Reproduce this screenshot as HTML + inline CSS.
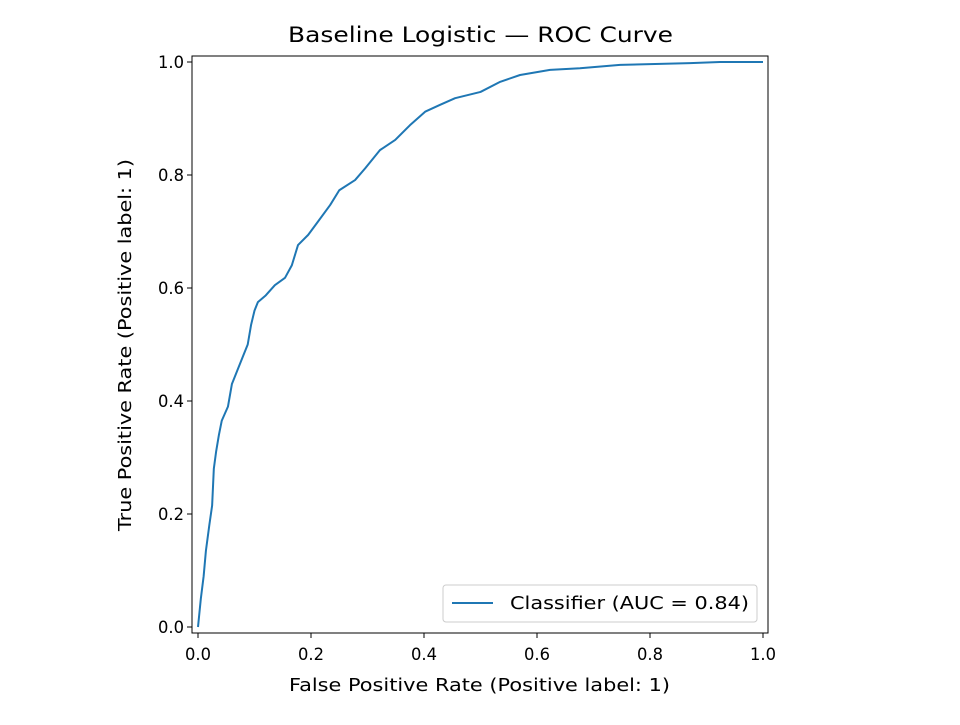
<!DOCTYPE html>
<html><head><meta charset="utf-8"><style>
body{margin:0;background:#fff}
svg text{font-family:"DejaVu Sans","Liberation Sans",sans-serif;fill:#000}
</style></head><body>
<svg width="960" height="720">
<rect width="960" height="720" fill="#fff"/>
<g id="plot"></g>
</svg>
<script>
const fpr=[0,0.002,0.005,0.01,0.014,0.02,0.025,0.028,0.032,0.037,0.042,0.053,0.06,0.07,0.08,0.088,0.094,0.1,0.106,0.12,0.136,0.154,0.166,0.177,0.195,0.212,0.234,0.25,0.278,0.296,0.322,0.349,0.375,0.402,0.428,0.455,0.5,0.535,0.57,0.623,0.676,0.747,0.871,0.924,1];
const tpr=[0,0.02,0.05,0.09,0.135,0.18,0.215,0.28,0.31,0.34,0.365,0.39,0.43,0.455,0.48,0.5,0.535,0.56,0.575,0.587,0.605,0.618,0.64,0.676,0.694,0.717,0.747,0.773,0.791,0.812,0.844,0.862,0.888,0.912,0.924,0.936,0.947,0.965,0.977,0.986,0.989,0.995,0.998,1,1];
const ticks=[0,0.2,0.4,0.6,0.8,1.0];
const tickLabels=["0.0","0.2","0.4","0.6","0.8","1.0"];
const NS="http://www.w3.org/2000/svg";
const X=v=>198+v*565, Y=v=>627-v*565;
const g=document.getElementById('plot');
function mk(t,a,txt){const e=document.createElementNS(NS,t);for(const k in a)e.setAttribute(k,a[k]);if(txt!==undefined)e.textContent=txt;g.appendChild(e);return e;}
let d='M'+X(fpr[0])+','+Y(tpr[0]);
for(let i=1;i<fpr.length;i++){d+=' L'+X(fpr[i])+','+Y(tpr[i]);}
const line=mk('path',{d:d,fill:'none',stroke:'#1f77b4','stroke-width':2,'stroke-linejoin':'round'});


const frame=mk('rect',{x:192,y:56,width:576,height:577,fill:'none',stroke:'#000','stroke-width':1});


ticks.forEach((t,i)=>{
 mk('line',{x1:X(t),x2:X(t),y1:633,y2:638,stroke:'#000'});
 const xl=mk('text',{x:X(t),y:660,style:'font-size:17px','text-anchor':'middle',textLength:26,lengthAdjust:'spacingAndGlyphs'},tickLabels[i]);
 
 
 mk('line',{x1:187,x2:192,y1:Y(t),y2:Y(t),stroke:'#000'});
 const yl=mk('text',{x:184,y:Y(t)+6,style:'font-size:17px','text-anchor':'end',textLength:26,lengthAdjust:'spacingAndGlyphs'},tickLabels[i]);
 
 
});
const title=mk('text',{x:288,y:42,style:'font-size:21px',textLength:385,lengthAdjust:'spacingAndGlyphs'},'Baseline Logistic — ROC Curve');


const xt=mk('text',{x:289,y:691,style:'font-size:18px',textLength:381,lengthAdjust:'spacingAndGlyphs'},'False Positive Rate (Positive label: 1)');


const yt=mk('text',{x:0,y:0,style:'font-size:18px',textLength:372,lengthAdjust:'spacingAndGlyphs',transform:'translate(131,531) rotate(-90)'},'True Positive Rate (Positive label: 1)');


const lb=mk('rect',{x:443,y:585,width:314,height:37,rx:3,fill:'#fff',stroke:'#ccc'});


mk('line',{x1:452,x2:493,y1:603,y2:603,stroke:'#1f77b4','stroke-width':2});
const lt=mk('text',{x:510,y:609,style:'font-size:18px',textLength:239,lengthAdjust:'spacingAndGlyphs'},'Classifier (AUC = 0.84)');


</script>
</body></html>
